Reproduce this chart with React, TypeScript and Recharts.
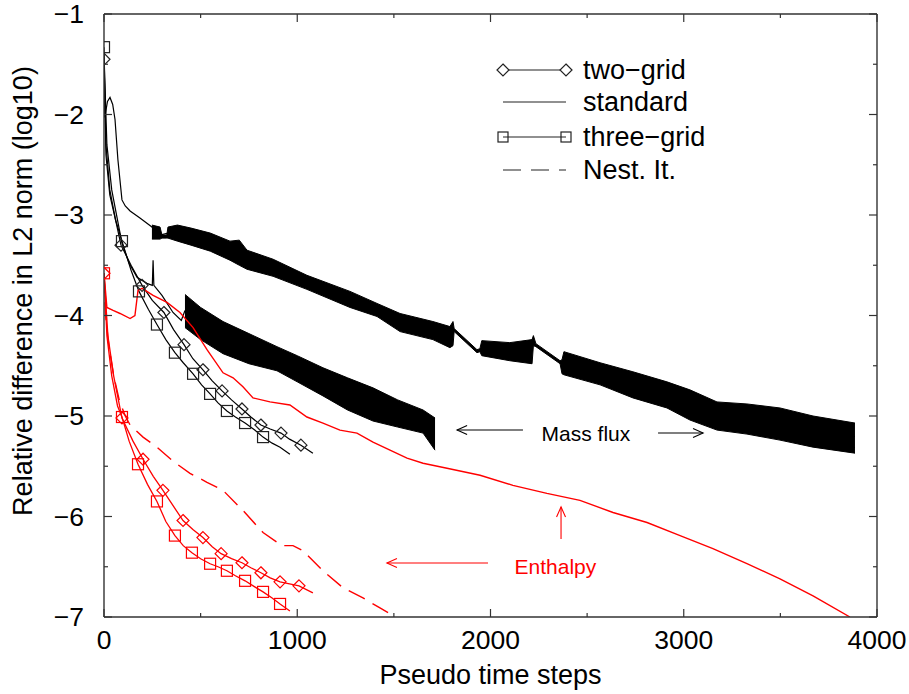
import React from 'react';
import {
  ComposedChart,
  Line,
  Area,
  XAxis,
  YAxis,
  ReferenceLine,
  ReferenceDot,
  Legend,
  Customized,
} from 'recharts';

type P = [number, number];
type B = [number, number, number];

const FONT = '"Liberation Sans", Arial, Helvetica, sans-serif';
const RED = '#ff0000';
const BLK = '#000000';
const MARK_BLK = '#222222';
const AXIS = '#333333';

// ---------- ticks ----------
const xTicks = [0, 500, 1000, 1500, 2000, 2500, 3000, 3500, 4000];
const xMajor = [0, 1000, 2000, 3000, 4000];
const yTicks = [-7, -6.5, -6, -5.5, -5, -4.5, -4, -3.5, -3, -2.5, -2, -1.5, -1];
const yMajor = [-7, -6, -5, -4, -3, -2, -1];

// ---------- Mass flux (black) ----------
const blackStandardStart: P[] = [
  [0, -1.42], [4, -2.03], [18, -1.87], [31, -1.83], [45, -1.9], [57, -2.05],
  [72, -2.45], [93, -2.85], [110, -2.91], [135, -2.96], [186, -3.03],
  [248, -3.12], [290, -3.2], [331, -3.18],
];
// [x, upper edge, lower edge] of the oscillating band
const blackStandardBand: B[] = [
  [248, -3.1, -3.24], [290, -3.12, -3.24], [300, -3.2, -3.23], [325, -3.2, -3.23],
  [331, -3.12, -3.23], [380, -3.1, -3.26],
  [450, -3.13, -3.3], [550, -3.18, -3.36], [652, -3.26, -3.45], [700, -3.25, -3.5],
  [740, -3.35, -3.54], [875, -3.44, -3.61], [1050, -3.6, -3.74], [1273, -3.76, -3.92],
  [1413, -3.88, -4.01], [1532, -3.98, -4.16], [1702, -4.06, -4.24], [1790, -4.11, -4.32],
  [1806, -4.06, -4.3], [1812, -4.13, -4.16], [1930, -4.34, -4.37], [1945, -4.33, -4.36],
  [1955, -4.25, -4.4], [2100, -4.27, -4.45], [2215, -4.24, -4.48], [2222, -4.2, -4.3],
  [2235, -4.28, -4.31], [2360, -4.45, -4.48], [2370, -4.44, -4.58],
  [2380, -4.36, -4.59], [2567, -4.47, -4.69], [2737, -4.56, -4.82], [2913, -4.66, -4.92],
  [3032, -4.74, -5.04], [3172, -4.86, -5.14], [3327, -4.88, -5.18], [3498, -4.92, -5.24],
  [3669, -5.0, -5.31], [3886, -5.07, -5.37],
];
const blackNestStart: P[] = [
  [0, -1.4], [15, -2.3], [40, -2.75], [70, -3.05], [93, -3.28], [130, -3.48],
  [171, -3.62], [222, -3.68], [250, -3.7], [254, -3.45], [258, -3.7], [300, -3.8],
  [357, -3.97], [400, -4.05], [419, -3.95],
];
const blackNestBand: B[] = [
  [419, -3.79, -4.12], [500, -3.92, -4.24], [616, -4.06, -4.38], [750, -4.18, -4.48],
  [895, -4.31, -4.55], [1000, -4.4, -4.66], [1133, -4.52, -4.8], [1260, -4.62, -4.94],
  [1392, -4.72, -5.05], [1520, -4.84, -5.11], [1651, -4.94, -5.17], [1713, -5.02, -5.34],
];
const blackTwoGrid: P[] = [
  [0, -1.45], [10, -2.3], [30, -2.75], [60, -3.05], [88, -3.3], [140, -3.5],
  [197, -3.7], [250, -3.85], [310, -3.97], [360, -4.14], [414, -4.29], [460, -4.43],
  [512, -4.54], [560, -4.65], [611, -4.75], [660, -4.84], [714, -4.93], [760, -5.01],
  [812, -5.09], [860, -5.13], [916, -5.17], [960, -5.23], [1019, -5.29], [1081, -5.37],
];
const blackTwoGridMarks = [0, 88, 197, 310, 414, 512, 611, 714, 812, 916, 1019];
const blackThreeGrid: P[] = [
  [0, -1.33], [10, -2.4], [30, -2.8], [60, -3.05], [93, -3.26], [140, -3.55],
  [181, -3.76], [230, -3.94], [274, -4.09], [320, -4.24], [367, -4.37], [410, -4.47],
  [461, -4.58], [505, -4.69], [549, -4.78], [590, -4.87], [636, -4.95], [680, -5.01],
  [730, -5.07], [780, -5.14], [823, -5.21], [870, -5.27], [911, -5.31], [962, -5.38],
];
const blackThreeGridMarks = [0, 93, 181, 274, 367, 461, 549, 636, 730, 823];

// ---------- Enthalpy (red) ----------
const redStandard: P[] = [
  [0, -3.58], [15, -3.92], [47, -3.95], [83, -3.98], [135, -4.03], [160, -4.0],
  [176, -3.75], [197, -3.73], [254, -3.8], [326, -3.87], [393, -3.97], [461, -4.12],
  [533, -4.34], [616, -4.57], [668, -4.62], [719, -4.71], [771, -4.82], [859, -4.86],
  [962, -4.89], [1050, -5.01], [1133, -5.07], [1221, -5.14], [1309, -5.17], [1392, -5.26],
  [1480, -5.34], [1568, -5.42], [1651, -5.47], [1775, -5.52], [1946, -5.59], [2116, -5.69],
  [2292, -5.77], [2463, -5.84], [2634, -5.96], [2810, -6.06], [2981, -6.19], [3151, -6.32],
  [3327, -6.47], [3498, -6.62], [3669, -6.79], [3860, -7.0],
];
const redNest: P[] = [
  [0, -3.6], [8, -4.0], [25, -4.3], [50, -4.6], [80, -4.85], [110, -5.0], [135, -5.09],
  [202, -5.21], [274, -5.31], [357, -5.45], [445, -5.57], [533, -5.66], [616, -5.74],
  [719, -5.94], [823, -6.16], [921, -6.29], [978, -6.29], [1030, -6.34], [1133, -6.54],
  [1237, -6.71], [1340, -6.81], [1428, -6.91], [1510, -7.0],
];
const redTwoGrid: P[] = [
  [0, -3.58], [20, -4.2], [50, -4.6], [93, -5.02], [150, -5.25], [202, -5.43],
  [255, -5.6], [305, -5.74], [360, -5.9], [409, -6.04], [460, -6.13], [512, -6.21],
  [560, -6.3], [606, -6.37], [660, -6.42], [714, -6.46], [760, -6.51], [812, -6.56],
  [860, -6.61], [911, -6.65], [960, -6.67], [1009, -6.69], [1081, -6.76],
];
const redTwoGridMarks = [0, 93, 202, 305, 409, 512, 606, 714, 812, 911, 1009];
const redThreeGrid: P[] = [
  [0, -3.58], [15, -4.2], [40, -4.6], [70, -4.9], [93, -5.01], [130, -5.25],
  [176, -5.48], [225, -5.68], [274, -5.85], [320, -6.05], [367, -6.19], [410, -6.29],
  [455, -6.36], [500, -6.42], [549, -6.47], [590, -6.5], [636, -6.54], [680, -6.59],
  [730, -6.64], [780, -6.7], [823, -6.75], [870, -6.81], [911, -6.87], [962, -6.94],
];
const redThreeGridMarks = [0, 93, 176, 274, 367, 455, 549, 636, 730, 823, 911];

// ---------- annotations (data coordinates) ----------
const massFluxText = { x: 2494, y: -5.174 };
const massFluxArrows: [P, P][] = [
  [[2168, -5.139], [1827, -5.139]],
  [[2867, -5.169], [3100, -5.169]],
];
const enthalpyText = { x: 2336, y: -6.5 };
const enthalpyArrows: [P, P][] = [
  [[1987, -6.463], [1464, -6.463]],
  [[2365, -6.224], [2365, -5.905]],
];

const legendItems = [
  { label: 'two−grid', marker: 'diamond', dash: undefined as string | undefined },
  { label: 'standard', marker: 'none', dash: undefined },
  { label: 'three−grid', marker: 'square', dash: undefined },
  { label: 'Nest. It.', marker: 'none', dash: '18 10' },
];

// ---------- helpers ----------
const pts = (a: P[]) => a.map(([x, y]) => ({ x, y }));
const band = (a: B[]) => a.map(([x, hi, lo]) => ({ x, r: [lo, hi] }));
const fmt = (v: number) => (v < 0 ? '−' + Math.abs(v) : String(v));

const diamondPts = (cx: number, cy: number, s: number) =>
  `${cx},${cy - s} ${cx + s},${cy} ${cx},${cy + s} ${cx - s},${cy}`;

const markerDot = (marks: number[], kind: 'diamond' | 'square', color: string) =>
  (props: any) => {
    const { cx, cy, payload, index } = props;
    if (!payload || !marks.includes(payload.x) || cx == null || cy == null) {
      return <g key={`n${index}`} />;
    }
    if (kind === 'diamond') {
      return (
        <polygon key={`d${index}`} points={diamondPts(cx, cy, 6)} fill="none"
          stroke={color} strokeWidth={1.2} />
      );
    }
    return (
      <rect key={`s${index}`} x={cx - 5.5} y={cy - 5.5} width={11} height={11} fill="none"
        stroke={color} strokeWidth={1.2} />
    );
  };

const BottomTick = (p: any) => {
  const { x, y, payload } = p;
  const major = xMajor.includes(payload.value);
  return (
    <g>
      <line x1={x} x2={x} y1={y} y2={y - (major ? 8 : 4)} stroke={AXIS} strokeWidth={1.2} />
      {major && (
        <text x={x} y={y + 32} textAnchor="middle" fontFamily={FONT} fontSize={26.5} fill="#000">
          {payload.value}
        </text>
      )}
    </g>
  );
};
const TopTick = (p: any) => {
  const { x, y, payload } = p;
  const major = xMajor.includes(payload.value);
  return <line x1={x} x2={x} y1={y} y2={y + (major ? 8 : 4)} stroke={AXIS} strokeWidth={1.2} />;
};
const LeftTick = (p: any) => {
  const { x, y, payload } = p;
  const major = yMajor.includes(payload.value);
  return (
    <g>
      <line x1={x} x2={x + (major ? 8 : 4)} y1={y} y2={y} stroke={AXIS} strokeWidth={1.2} />
      {major && (
        <text x={x - 20} y={y + 9} textAnchor="end" fontFamily={FONT} fontSize={26.5} fill="#000">
          {fmt(payload.value)}
        </text>
      )}
    </g>
  );
};
const RightTick = (p: any) => {
  const { x, y, payload } = p;
  const major = yMajor.includes(payload.value);
  return <line x1={x} x2={x - (major ? 8 : 4)} y1={y} y2={y} stroke={AXIS} strokeWidth={1.2} />;
};

const arrowShape = (color: string) => (props: any) => {
  const { x1, y1, x2, y2 } = props;
  if ([x1, y1, x2, y2].some((v) => v == null || isNaN(v))) return <g />;
  const ang = Math.atan2(y2 - y1, x2 - x1);
  const L = 11;
  const W = 0.42;
  const ax = x2 - L * Math.cos(ang - W);
  const ay = y2 - L * Math.sin(ang - W);
  const bx = x2 - L * Math.cos(ang + W);
  const by = y2 - L * Math.sin(ang + W);
  return (
    <g>
      <line x1={x1} y1={y1} x2={x2} y2={y2} stroke={color} strokeWidth={1.1} />
      <polyline points={`${ax},${ay} ${x2},${y2} ${bx},${by}`} fill="none" stroke={color}
        strokeWidth={1.1} />
    </g>
  );
};

const LegendBox = () => {
  const ox = 480;
  const oy = 40;
  const rows = [70, 102, 137, 170];
  return (
    <svg width={300} height={160} style={{ display: 'block', overflow: 'visible' }}>
      {legendItems.map((it, i) => {
        const y = rows[i] - oy;
        const xa = 503 - ox;
        const xb = 566 - ox;
        return (
          <g key={it.label}>
            <line x1={xa} x2={xb} y1={y} y2={y} stroke={MARK_BLK} strokeWidth={1.2}
              strokeDasharray={it.dash} />
            {it.marker === 'diamond' && (
              <>
                <polygon points={diamondPts(xa, y, 6)} fill="#fff" stroke={MARK_BLK} strokeWidth={1.2} />
                <polygon points={diamondPts(xb, y, 6)} fill="#fff" stroke={MARK_BLK} strokeWidth={1.2} />
              </>
            )}
            {it.marker === 'square' && (
              <>
                <rect x={xa - 5} y={y - 5} width={10} height={10} fill="none" stroke={MARK_BLK} strokeWidth={1.2} />
                <rect x={xb - 5} y={y - 5} width={10} height={10} fill="none" stroke={MARK_BLK} strokeWidth={1.2} />
              </>
            )}
            <text x={583 - ox} y={y + 8.5} fontFamily={FONT} fontSize={27} fill="#000">
              {it.label}
            </text>
          </g>
        );
      })}
    </svg>
  );
};

const AxisTitles = () => (
  <g>
    <text x={490.5} y={684} textAnchor="middle" fontFamily={FONT} fontSize={27} fill="#000">
      Pseudo time steps
    </text>
    <text x={23} y={291} textAnchor="middle" dominantBaseline="central"
      transform="rotate(-90 23 291)" fontFamily={FONT} fontSize={27} fill="#000">
      Relative difference in L2 norm (log10)
    </text>
  </g>
);

export default function App() {
  return (
    <div style={{ position: 'absolute', left: 0, top: 0, width: 909, height: 694, background: '#fff' }}>
      <ComposedChart width={909} height={694} margin={{ top: 0, right: 0, bottom: 0, left: 0 }}>
        <XAxis xAxisId={0} type="number" dataKey="x" domain={[0, 4000]} ticks={xTicks}
          interval={0} allowDataOverflow height={77} tickSize={0} tickMargin={0}
          tickLine={false} axisLine={{ stroke: AXIS, strokeWidth: 1.4 }} tick={BottomTick} />
        <XAxis xAxisId="top" orientation="top" type="number" dataKey="x" domain={[0, 4000]}
          ticks={xTicks} interval={0} allowDataOverflow height={14} tickSize={0} tickMargin={0}
          tickLine={false} axisLine={{ stroke: AXIS, strokeWidth: 1.4 }} tick={TopTick} />
        <YAxis yAxisId={0} type="number" domain={[-7, -1]} ticks={yTicks} interval={0}
          allowDataOverflow width={104} tickSize={0} tickMargin={0} tickLine={false}
          axisLine={{ stroke: AXIS, strokeWidth: 1.4 }} tick={LeftTick} />
        <YAxis yAxisId="right" orientation="right" type="number" domain={[-7, -1]} ticks={yTicks}
          interval={0} allowDataOverflow width={32} tickSize={0} tickMargin={0} tickLine={false}
          axisLine={{ stroke: AXIS, strokeWidth: 1.4 }} tick={RightTick} />

        {/* Mass flux bands */}
        <Area data={band(blackStandardBand)} dataKey="r" type="linear" stroke={BLK}
          strokeWidth={1} fill={BLK} fillOpacity={1} isAnimationActive={false}
          dot={false} activeDot={false} />
        <Area data={band(blackNestBand)} dataKey="r" type="linear" stroke={BLK}
          strokeWidth={1} fill={BLK} fillOpacity={1} isAnimationActive={false}
          dot={false} activeDot={false} />
        <Line data={pts(blackStandardStart)} dataKey="y" type="linear" stroke={BLK}
          strokeWidth={1.2} dot={false} activeDot={false} isAnimationActive={false} />
        <Line data={pts(blackNestStart)} dataKey="y" type="linear" stroke={BLK}
          strokeWidth={1.2} dot={false} activeDot={false} isAnimationActive={false} />
        <Line data={pts(blackTwoGrid)} dataKey="y" type="linear" stroke={BLK}
          strokeWidth={1.2} dot={markerDot(blackTwoGridMarks, 'diamond', MARK_BLK)}
          activeDot={false} isAnimationActive={false} />
        <Line data={pts(blackThreeGrid)} dataKey="y" type="linear" stroke={BLK}
          strokeWidth={1.2} dot={markerDot(blackThreeGridMarks, 'square', MARK_BLK)}
          activeDot={false} isAnimationActive={false} />

        {/* Enthalpy */}
        <Line data={pts(redStandard)} dataKey="y" type="linear" stroke={RED}
          strokeWidth={1.4} dot={false} activeDot={false} isAnimationActive={false} />
        <Line data={pts(redNest)} dataKey="y" type="linear" stroke={RED} strokeDasharray="18 9"
          strokeWidth={1.4} dot={false} activeDot={false} isAnimationActive={false} />
        <Line data={pts(redTwoGrid)} dataKey="y" type="linear" stroke={RED}
          strokeWidth={1.3} dot={markerDot(redTwoGridMarks, 'diamond', RED)}
          activeDot={false} isAnimationActive={false} />
        <Line data={pts(redThreeGrid)} dataKey="y" type="linear" stroke={RED}
          strokeWidth={1.3} dot={markerDot(redThreeGridMarks, 'square', RED)}
          activeDot={false} isAnimationActive={false} />

        {/* Annotations */}
        {massFluxArrows.map(([a, b], i) => (
          <ReferenceLine key={`m${i}`} segment={[{ x: a[0], y: a[1] }, { x: b[0], y: b[1] }]}
            shape={arrowShape(BLK)} ifOverflow="visible" />
        ))}
        {enthalpyArrows.map(([a, b], i) => (
          <ReferenceLine key={`e${i}`} segment={[{ x: a[0], y: a[1] }, { x: b[0], y: b[1] }]}
            shape={arrowShape(RED)} ifOverflow="visible" />
        ))}
        <ReferenceDot x={massFluxText.x} y={massFluxText.y} r={0} fill="none" stroke="none"
          label={{ value: 'Mass flux', position: 'center', fill: '#000', fontSize: 21, fontFamily: FONT }} />
        <ReferenceDot x={enthalpyText.x} y={enthalpyText.y} r={0} fill="none" stroke="none"
          label={{ value: 'Enthalpy', position: 'center', fill: RED, fontSize: 21, fontFamily: FONT }} />

        <Legend layout="horizontal" verticalAlign="middle" align="center"
          wrapperStyle={{ left: 480, top: 40, width: 300, height: 160 }}
          content={() => <LegendBox />} />
        <Customized component={() => <AxisTitles />} />
      </ComposedChart>
    </div>
  );
}
